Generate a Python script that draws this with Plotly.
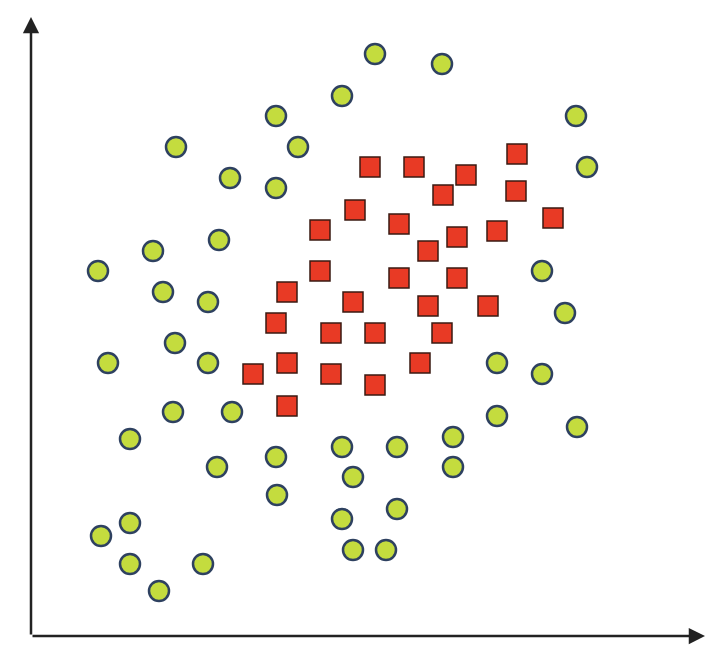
import plotly.graph_objects as go

# Class A (green circles)
circle_x = [344, 411, 311, 245, 545, 145, 267, 556, 199, 245, 188, 122, 67, 511, 132, 177, 534,
            144, 77, 177, 466, 511, 142, 201, 466, 546, 99, 311, 366, 422, 245, 186, 422, 322,
            246, 366, 311, 99, 70, 322, 355, 99, 172, 128]
circle_y = [582, 572, 540, 520, 520, 489, 489, 469, 458, 448, 396, 385, 365, 365, 344, 334, 323,
            293, 273, 273, 273, 262, 224, 224, 220, 209, 197, 189, 189, 199, 179, 169, 169, 159,
            141, 127, 117, 113, 100, 86, 86, 72, 72, 45]

# Class B (red squares)
square_x = [339, 383, 486, 435, 412, 485, 324, 289, 368, 522, 466, 426, 397, 289, 368, 426, 256,
            322, 397, 457, 245, 300, 344, 411, 256, 222, 300, 389, 344, 256]
square_y = [469, 469, 482, 461, 441, 445, 426, 406, 412, 418, 405, 399, 385, 365, 358, 358, 344,
            334, 330, 330, 313, 303, 303, 303, 273, 262, 262, 273, 251, 230]

# Axis extents (origin and arrow tips)
x_axis_end = 674
y_axis_end = 619

fig = go.Figure()
fig.add_trace(go.Scatter(
    x=circle_x, y=circle_y, mode="markers",
    marker=dict(symbol="circle", size=20, color="#c4dc3e",
                line=dict(color="#2e4160", width=2.5)),
    hoverinfo="skip", showlegend=False))
fig.add_trace(go.Scatter(
    x=square_x, y=square_y, mode="markers",
    marker=dict(symbol="square", size=20, color="#e83a25",
                line=dict(color="#3a1a12", width=1.5)),
    hoverinfo="skip", showlegend=False))

for (tx, ty) in [(x_axis_end, 0), (0, y_axis_end)]:
    fig.add_annotation(x=tx, y=ty, ax=0, ay=0, xref="x", yref="y", axref="x", ayref="y",
                       text="", showarrow=True, arrowhead=2, arrowsize=1.3, arrowwidth=2.5,
                       arrowcolor="#222222", standoff=0, startstandoff=0)

fig.update_xaxes(range=[-23, 694], visible=False, fixedrange=True)
fig.update_yaxes(range=[-35, 628], visible=False, fixedrange=True)
fig.update_layout(width=717, height=663, autosize=False,
                  margin=dict(l=0, r=0, t=0, b=0),
                  plot_bgcolor="white", paper_bgcolor="white")
fig.write_html("out.html")
